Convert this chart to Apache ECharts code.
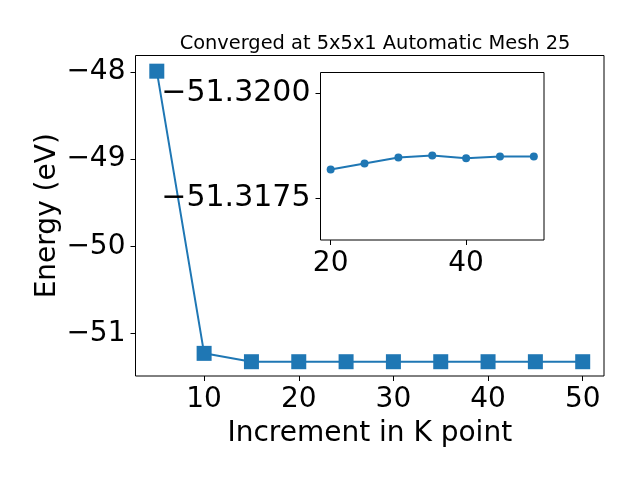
<!DOCTYPE html>
<html>
<head>
<meta charset="utf-8">
<script src="https://cdn.jsdelivr.net/npm/echarts@6/dist/echarts.min.js"></script>
<style>html,body{margin:0;padding:0;background:#fff;}#c{width:640px;height:480px;}</style>
</head>
<body>
<div id="c"></div>
<script>
var titleText = 'Converged at 5x5x1 Automatic Mesh 25';
var xName = 'Increment in K point';
var yName = 'Energy (eV)';
var kpoints = [5, 10, 15, 20, 25, 30, 35, 40, 45, 50];
var energy = [-47.99, -51.23, -51.326, -51.326, -51.326, -51.326, -51.326, -51.326, -51.326, -51.326];
var mainXTicks = [10, 20, 30, 40, 50];
var mainYTicks = [-51, -50, -49, -48];
var insetK = [20, 25, 30, 35, 40, 45, 50];
var insetEnergy = [-51.318185, -51.318329, -51.318472, -51.318520, -51.318455, -51.318496, -51.318496];
var insetXTicks = [20, 40];
var insetYTicks = [-51.3200, -51.3175];

function minus(s){ return String(s).replace('-', '\u2212'); }
var FONT = 'DejaVu Sans';
var chart = echarts.init(document.getElementById('c'), null, {renderer: 'canvas'});
var blue = '#1f77b4';
chart.setOption({
  backgroundColor: '#ffffff',
  animation: false,
  title: {
    text: titleText, left: 370, top: 29, textAlign: 'center',
    textStyle: {fontFamily: FONT, fontSize: 19.4, fontWeight: 'normal', color: '#000'}
  },
  grid: [
    {left: 135.5, top: 55.5, right: 36, bottom: 104, show: true, borderColor: '#000', borderWidth: 1, backgroundColor: '#fff', containLabel: false},
    {left: 320.5, top: 72.5, width: 223.5, height: 167.5, show: true, borderColor: '#000', borderWidth: 1, backgroundColor: '#fff', containLabel: false, z: 5}
  ],
  xAxis: [
    {
      type: 'value', gridIndex: 0, min: 2.75, max: 52.25,
      name: xName, nameLocation: 'middle', nameGap: 44, nameMoveOverlap: false,
      nameTextStyle: {fontFamily: FONT, fontSize: 28, color: '#000'},
      axisLine: {show: false}, splitLine: {show: false},
      axisTick: {show: true, length: 5, inside: false, lineStyle: {color: '#000', width: 1}, customValues: mainXTicks},
      axisLabel: {fontFamily: FONT, fontSize: 28, color: '#000', margin: 10, customValues: mainXTicks, formatter: function(v){return minus(v);}}
    },
    {
      type: 'value', gridIndex: 1, min: 18.5, max: 51.5, z: 6,
      axisLine: {show: false}, splitLine: {show: false},
      axisTick: {show: true, length: 5, lineStyle: {color: '#000', width: 1}, customValues: insetXTicks},
      axisLabel: {fontFamily: FONT, fontSize: 28, color: '#000', margin: 10, customValues: insetXTicks, formatter: function(v){return minus(v);}}
    }
  ],
  yAxis: [
    {
      type: 'value', gridIndex: 0, min: -51.49, max: -47.81,
      name: yName, nameLocation: 'middle', nameGap: 74, nameMoveOverlap: false,
      nameTextStyle: {fontFamily: FONT, fontSize: 28, color: '#000'},
      axisLine: {show: false}, splitLine: {show: false},
      axisTick: {show: true, length: 5, lineStyle: {color: '#000', width: 1}, customValues: mainYTicks},
      axisLabel: {fontFamily: FONT, fontSize: 28, color: '#000', margin: 10, customValues: mainYTicks, formatter: function(v){return minus(v);}}
    },
    {
      type: 'value', gridIndex: 1, min: -51.3205, max: -51.3165, inverse: true, z: 6,
      axisLine: {show: false}, splitLine: {show: false},
      axisTick: {show: true, length: 5, lineStyle: {color: '#000', width: 1}, customValues: insetYTicks},
      axisLabel: {fontFamily: FONT, fontSize: 30, color: '#000', margin: 10, customValues: insetYTicks, formatter: function(v){return minus(v.toFixed(4));}}
    }
  ],
  series: [
    {
      type: 'line', xAxisIndex: 0, yAxisIndex: 0, z: 2,
      data: kpoints.map(function(k, i){ return [k, energy[i]]; }),
      symbol: 'rect', symbolSize: 15, showAllSymbol: true,
      lineStyle: {color: blue, width: 2},
      itemStyle: {color: blue, borderColor: blue, borderWidth: 0}
    },
    {
      type: 'line', xAxisIndex: 1, yAxisIndex: 1, z: 7,
      data: insetK.map(function(k, i){ return [k, insetEnergy[i]]; }),
      symbol: 'circle', symbolSize: 8, showAllSymbol: true,
      lineStyle: {color: blue, width: 2},
      itemStyle: {color: blue, borderWidth: 0}
    }
  ]
});
</script>
</body>
</html>
